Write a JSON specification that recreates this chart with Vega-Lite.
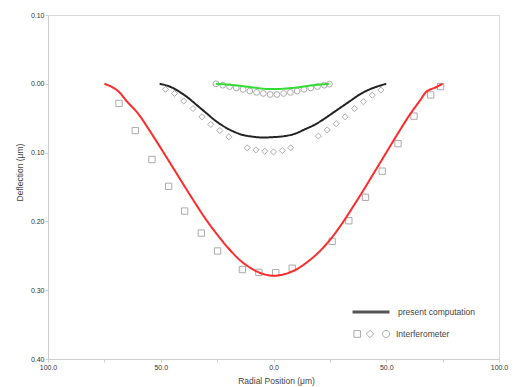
{
  "$schema": "https://vega.github.io/schema/vega-lite/v6.json",
  "width": 451,
  "height": 344,
  "autosize": {"type": "none"},
  "padding": {"left": 48, "top": 15, "right": 15, "bottom": 28},
  "background": "white",
  "config": {
    "view": {"stroke": "#d8d8d8", "strokeWidth": 1},
    "font": "Liberation Sans",
    "axis": {
      "domainColor": "#cfcfcf",
      "tickColor": "#cfcfcf",
      "grid": false,
      "labelFont": "Liberation Sans",
      "labelFontSize": 7,
      "labelColor": "#333",
      "titleFont": "Liberation Sans",
      "titleFontSize": 8.5,
      "titleFontWeight": "normal",
      "titleColor": "#444",
      "tickSize": 3,
      "labelOverlap": false,
      "labelFlush": false
    },
    "legend": {
      "labelFont": "Liberation Sans",
      "labelFontSize": 8.5,
      "labelColor": "#444",
      "padding": 0,
      "title": null
    }
  },
  "datasets": {
    "curves": [
      {"series": "large", "x": -75, "y": 0.0},
      {"series": "large", "x": -68.5, "y": 0.012},
      {"series": "large", "x": -65, "y": 0.0256},
      {"series": "large", "x": -60, "y": 0.0435},
      {"series": "large", "x": -55, "y": 0.0677},
      {"series": "large", "x": -50, "y": 0.0934},
      {"series": "large", "x": -45, "y": 0.1197},
      {"series": "large", "x": -40, "y": 0.146},
      {"series": "large", "x": -35, "y": 0.172},
      {"series": "large", "x": -30, "y": 0.197},
      {"series": "large", "x": -25, "y": 0.219},
      {"series": "large", "x": -20, "y": 0.239},
      {"series": "large", "x": -15, "y": 0.256},
      {"series": "large", "x": -10, "y": 0.268},
      {"series": "large", "x": -5, "y": 0.276},
      {"series": "large", "x": 0, "y": 0.279},
      {"series": "large", "x": 5, "y": 0.2765},
      {"series": "large", "x": 10, "y": 0.27},
      {"series": "large", "x": 15, "y": 0.259},
      {"series": "large", "x": 20, "y": 0.245},
      {"series": "large", "x": 25, "y": 0.227},
      {"series": "large", "x": 30, "y": 0.205},
      {"series": "large", "x": 35, "y": 0.18},
      {"series": "large", "x": 40, "y": 0.154},
      {"series": "large", "x": 45, "y": 0.127},
      {"series": "large", "x": 50, "y": 0.1},
      {"series": "large", "x": 55, "y": 0.073},
      {"series": "large", "x": 60, "y": 0.047},
      {"series": "large", "x": 65, "y": 0.024},
      {"series": "large", "x": 67.5, "y": 0.0125},
      {"series": "large", "x": 72, "y": 0.005},
      {"series": "large", "x": 75, "y": 0.0},
      {"series": "medium", "x": -50.5, "y": 0.0},
      {"series": "medium", "x": -46, "y": 0.004},
      {"series": "medium", "x": -42, "y": 0.011},
      {"series": "medium", "x": -38, "y": 0.02},
      {"series": "medium", "x": -34, "y": 0.031},
      {"series": "medium", "x": -30, "y": 0.042},
      {"series": "medium", "x": -26, "y": 0.053},
      {"series": "medium", "x": -22, "y": 0.062},
      {"series": "medium", "x": -18, "y": 0.069},
      {"series": "medium", "x": -14, "y": 0.074},
      {"series": "medium", "x": -10, "y": 0.0765},
      {"series": "medium", "x": -5, "y": 0.078},
      {"series": "medium", "x": 0, "y": 0.0775},
      {"series": "medium", "x": 5, "y": 0.076},
      {"series": "medium", "x": 10, "y": 0.072},
      {"series": "medium", "x": 14, "y": 0.066},
      {"series": "medium", "x": 18, "y": 0.06},
      {"series": "medium", "x": 22, "y": 0.052},
      {"series": "medium", "x": 26, "y": 0.043},
      {"series": "medium", "x": 30, "y": 0.034},
      {"series": "medium", "x": 34, "y": 0.025},
      {"series": "medium", "x": 38, "y": 0.016},
      {"series": "medium", "x": 42, "y": 0.009},
      {"series": "medium", "x": 46, "y": 0.004},
      {"series": "medium", "x": 50, "y": 0.0},
      {"series": "small", "x": -25.5, "y": 0.0},
      {"series": "small", "x": -17.6, "y": 0.002},
      {"series": "small", "x": -10.2, "y": 0.0048},
      {"series": "small", "x": -3, "y": 0.0075},
      {"series": "small", "x": 0, "y": 0.0077},
      {"series": "small", "x": 9, "y": 0.0058},
      {"series": "small", "x": 17.9, "y": 0.002},
      {"series": "small", "x": 24.6, "y": 0.0}
    ],
    "measured": [
      {"series": "large", "x": -68.5, "y": 0.0285},
      {"series": "large", "x": -61.3, "y": 0.068},
      {"series": "large", "x": -53.9, "y": 0.11},
      {"series": "large", "x": -46.5, "y": 0.149},
      {"series": "large", "x": -39.4, "y": 0.185},
      {"series": "large", "x": -32, "y": 0.217},
      {"series": "large", "x": -24.8, "y": 0.243},
      {"series": "large", "x": -13.8, "y": 0.27},
      {"series": "large", "x": -6.5, "y": 0.274},
      {"series": "large", "x": 1, "y": 0.2745},
      {"series": "large", "x": 8.3, "y": 0.268},
      {"series": "large", "x": 26, "y": 0.229},
      {"series": "large", "x": 33.4, "y": 0.199},
      {"series": "large", "x": 40.8, "y": 0.165},
      {"series": "large", "x": 48.2, "y": 0.127},
      {"series": "large", "x": 55.2, "y": 0.087},
      {"series": "large", "x": 62.3, "y": 0.047},
      {"series": "large", "x": 69.7, "y": 0.0162},
      {"series": "large", "x": 74.1, "y": 0.004},
      {"series": "medium", "x": -47.9, "y": 0.008},
      {"series": "medium", "x": -43.9, "y": 0.014},
      {"series": "medium", "x": -39.8, "y": 0.025},
      {"series": "medium", "x": -35.7, "y": 0.036},
      {"series": "medium", "x": -31.7, "y": 0.048},
      {"series": "medium", "x": -27.8, "y": 0.059},
      {"series": "medium", "x": -23.8, "y": 0.068},
      {"series": "medium", "x": -19.8, "y": 0.077},
      {"series": "medium", "x": -11.7, "y": 0.093},
      {"series": "medium", "x": -7.8, "y": 0.096},
      {"series": "medium", "x": -3.9, "y": 0.098},
      {"series": "medium", "x": 0, "y": 0.099},
      {"series": "medium", "x": 3.9, "y": 0.097},
      {"series": "medium", "x": 7.6, "y": 0.093},
      {"series": "medium", "x": 19.9, "y": 0.076},
      {"series": "medium", "x": 23.8, "y": 0.067},
      {"series": "medium", "x": 27.8, "y": 0.058},
      {"series": "medium", "x": 31.8, "y": 0.048},
      {"series": "medium", "x": 35.9, "y": 0.036},
      {"series": "medium", "x": 39.9, "y": 0.026},
      {"series": "medium", "x": 43.8, "y": 0.0165},
      {"series": "medium", "x": 47.6, "y": 0.009},
      {"series": "small", "x": -25.5, "y": 0.0},
      {"series": "small", "x": -22.5, "y": 0.002},
      {"series": "small", "x": -19.5, "y": 0.004},
      {"series": "small", "x": -16.5, "y": 0.006},
      {"series": "small", "x": -13.5, "y": 0.008},
      {"series": "small", "x": -10.5, "y": 0.0105},
      {"series": "small", "x": -7.5, "y": 0.0125},
      {"series": "small", "x": -4.5, "y": 0.014},
      {"series": "small", "x": -1.5, "y": 0.0155},
      {"series": "small", "x": 1.5, "y": 0.0155},
      {"series": "small", "x": 4.5, "y": 0.014},
      {"series": "small", "x": 7.5, "y": 0.0125},
      {"series": "small", "x": 10.5, "y": 0.0105},
      {"series": "small", "x": 13.5, "y": 0.008},
      {"series": "small", "x": 16.5, "y": 0.006},
      {"series": "small", "x": 19.5, "y": 0.004},
      {"series": "small", "x": 22.5, "y": 0.002},
      {"series": "small", "x": 24.8, "y": 0.0005}
    ]
  },
  "layer": [
    {
      "data": {"name": "measured"},
      "mark": {"type": "point", "filled": false, "strokeWidth": 1, "opacity": 1},
      "encoding": {
        "x": {
          "field": "x", "type": "quantitative",
          "scale": {"domain": [-100, 100], "nice": false, "zero": false},
          "axis": {
            "title": "Radial Position (μm)",
            "values": [-100, -75, -50, -25, 0, 25, 50, 75, 100],
            "labelExpr": "abs(round(datum.value/25)) % 2 == 0 ? format(abs(datum.value), '.1f') : ''",
            "labelPadding": 1,
            "titleY": 21,
            "titleX": 228,
            "titleBaseline": "middle"
          }
        },
        "y": {
          "field": "y", "type": "quantitative",
          "scale": {"domain": [-0.1, 0.4], "reverse": true, "nice": false, "zero": false},
          "axis": {
            "title": "Deflection (μm)",
            "values": [-0.1, -0.05, 0, 0.05, 0.1, 0.15, 0.2, 0.25, 0.3, 0.35, 0.4],
            "labelExpr": "abs(round(datum.value*20)) % 2 == 0 ? format(abs(datum.value), '.2f') : ''",
            "labelPadding": 1,
            "titleX": -29,
            "titleY": 157,
            "titleBaseline": "middle"
          }
        },
        "shape": {
          "field": "series", "type": "nominal",
          "scale": {"domain": ["large", "medium", "small"], "range": ["square", "diamond", "circle"]},
          "legend": null
        },
        "size": {
          "field": "series", "type": "nominal",
          "scale": {"domain": ["large", "medium", "small"], "range": [40, 34, 30]},
          "legend": null
        },
        "stroke": {
          "datum": "Interferometer", "type": "nominal",
          "scale": {"range": ["#ababab"]},
          "legend": {
            "orient": "none",
            "legendX": 303,
            "legendY": 300,
            "symbolType": "M-0.87,-0.18H-0.51V0.18H-0.87Z M0,-0.2L0.2,0L0,0.2L-0.2,0Z M0.68,0A0.19,0.19 0 1 0 1.06,0A0.19,0.19 0 1 0 0.68,0Z",
            "symbolSize": 1369,
            "symbolStrokeWidth": 1,
            "symbolFillColor": "transparent",
            "labelOffset": 7
          }
        }
      }
    },
    {
      "data": {"name": "curves"},
      "mark": {"type": "line", "strokeWidth": 2, "interpolate": "monotone"},
      "encoding": {
        "x": {"field": "x", "type": "quantitative"},
        "y": {"field": "y", "type": "quantitative"},
        "color": {
          "field": "series", "type": "nominal",
          "scale": {"domain": ["large", "medium", "small"], "range": ["#ff2a2a", "#222222", "#33dd33"]},
          "legend": null
        },
        "strokeDash": {
          "datum": "present computation", "type": "nominal",
          "scale": {"range": [[1, 0]]},
          "legend": {
            "orient": "none",
            "legendX": 303,
            "legendY": 277,
            "symbolType": "stroke",
            "symbolSize": 1369,
            "symbolStrokeWidth": 3,
            "symbolStrokeColor": "#555",
            "labelOffset": 7
          }
        }
      }
    }
  ]
}
